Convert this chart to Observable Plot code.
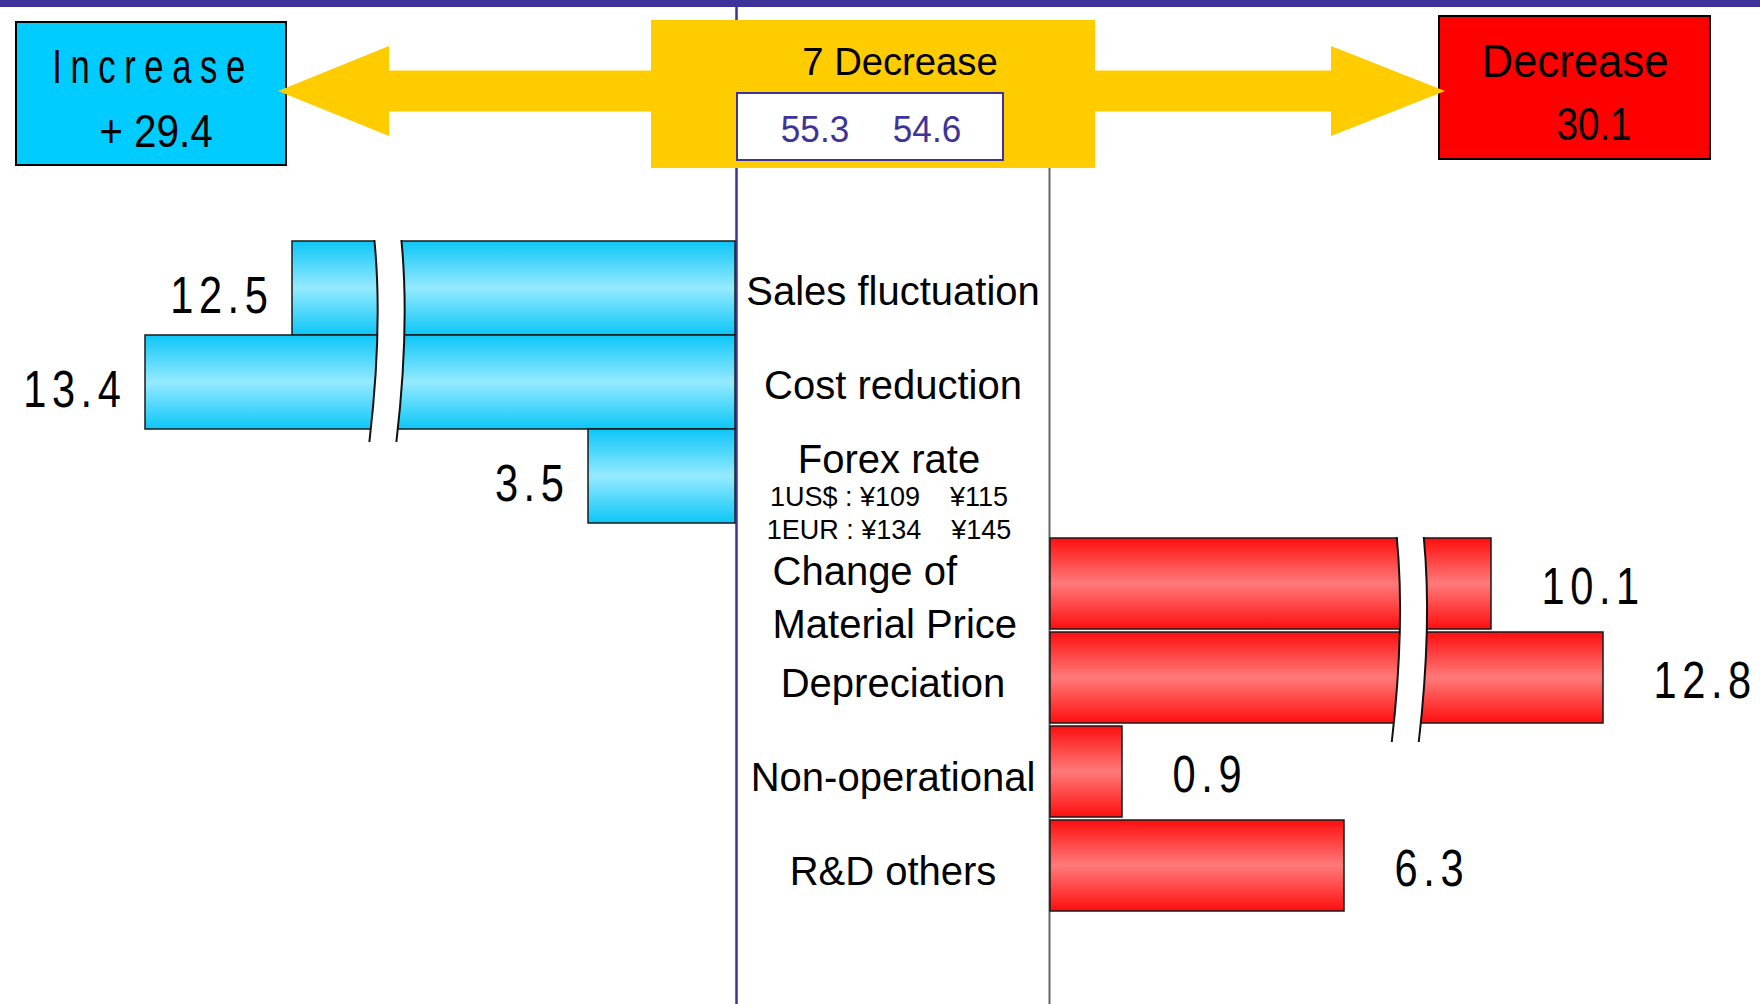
<!DOCTYPE html>
<html><head><meta charset="utf-8">
<script src="https://cdn.jsdelivr.net/npm/d3@7"></script>
<script src="https://cdn.jsdelivr.net/npm/@observablehq/plot@0.6"></script>
<style>
html,body{margin:0;padding:0;background:#fff;}
#chart{width:1760px;height:1004px;overflow:hidden;}
#chart g[aria-description="value-labels"] text{letter-spacing:7px;}
</style></head><body><div id="chart"></div>
<script>
// ---------------- data ----------------
const increaseItems = ["Sales fluctuation", "Cost reduction", "Forex rate"];
const increaseValues = [12.5, 13.4, 3.5];
const decreaseItems = ["Change of\nMaterial Price", "Depreciation", "Non-operational", "R&D others"];
const decreaseValues = [10.1, 12.8, 0.9, 6.3];
const forexRateLines = ["1US$ : ¥109\u00a0\u00a0\u00a0\u00a0¥115", "1EUR : ¥134\u00a0\u00a0\u00a0\u00a0¥145"];
const increaseTitle = "Increase";
const increaseTotal = 29.4;
const decreaseTitle = "Decrease";
const decreaseTotal = 30.1;
const netChangeLabel = "7 Decrease";
const profitBefore = 55.3;
const profitAfter = 54.6;

// ---------------- layout / style ----------------
const W = 1760, H = 1004;
const ZERO_X = 735;          // zero line of the chart
const COLUMN = 315;          // width of the central label column
const ROWS = [240, 900];     // vertical extent of the bar rows
const DEC_SHIFT = 15;        // decrease bars sit slightly lower
// drawn lengths of the original (non-proportional, broken) axis, for values sorted ascending
const incLengths = [147, 443, 590];
const decLengths = [72, 294, 441, 553];
const BREAK_MIN = 10;        // bars at or above this value are drawn with a break
const NAVY = "#3d3399";
const FONT = "'Liberation Sans', Arial, Helvetica, sans-serif";
const VALUE_SQUEEZE = 0.8;   // condensed look of the value figures

const fmt = d3.format(".1f");
const incData = increaseItems.map((item, i) => ({item, value: increaseValues[i]}));
const decData = decreaseItems.map((item, i) => ({item, value: decreaseValues[i]}));
const allItems = [...increaseItems, ...decreaseItems];

const incSorted = [...increaseValues].sort(d3.ascending);
const decSorted = [...decreaseValues].sort(d3.ascending);
const xDomain = [...incSorted.map(v => -v).reverse(), 0, ...decSorted];
const xRange = [...incLengths.map(p => ZERO_X - p).reverse(), ZERO_X, ...decLengths.map(p => ZERO_X + p)];

// gradients
const defsMark = () => {
  const g = d3.create("svg:g");
  const defs = g.append("defs");
  const grad = (id, edge, mid) => {
    const lg = defs.append("linearGradient").attr("id", id)
      .attr("x1", 0).attr("y1", 0).attr("x2", 0).attr("y2", 1);
    lg.append("stop").attr("offset", "0").attr("stop-color", edge);
    lg.append("stop").attr("offset", "0.5").attr("stop-color", mid);
    lg.append("stop").attr("offset", "1").attr("stop-color", edge);
  };
  grad("incGrad", "#0cc6f7", "#95eaff");
  grad("decGrad", "#ff0e0e", "#ff7a7a");
  return g.node();
};

// wavy "axis break" drawn across the long bars
const breakMark = (items, value, dx, dy, extend) => (index, scales) => {
  const x = scales.x, y = scales.y;
  const bw = y.bandwidth ? y.bandwidth() : 94;
  const cx = x(value) + dx;
  const top = y(items[0]) + dy - 1;
  const bottom = y(items[items.length - 1]) + bw + dy + extend;
  const h = bottom - top, gw = 27;
  const seg = o => `C${cx - 7 + o},${top + 0.3 * h} ${cx - 9 + o},${top + 0.62 * h} ${cx - 18 + o},${bottom}`;
  const segRev = o => `C${cx - 9 + o},${top + 0.62 * h} ${cx - 7 + o},${top + 0.3 * h} ${cx - 13 + o},${top}`;
  const g = d3.create("svg:g");
  g.append("path").attr("fill", "#fff")
    .attr("d", `M${cx - 13},${top} ${seg(0)} L${cx - 18 + gw},${bottom} ${segRev(gw)} Z`);
  for (const o of [0, gw]) {
    g.append("path").attr("fill", "none").attr("stroke", "#111").attr("stroke-width", 2)
      .attr("d", `M${cx - 13 + o},${top} ${seg(o)}`);
  }
  return g.node();
};

// header: totals boxes and the double arrow
const headerMark = () => {
  const g = d3.create("svg:g").attr("font-family", FONT);
  g.append("rect").attr("x", 0).attr("y", 0).attr("width", W).attr("height", 7).attr("fill", NAVY);
  g.append("rect").attr("x", 16).attr("y", 22).attr("width", 270).attr("height", 143)
    .attr("fill", "#00ccff").attr("stroke", "#000").attr("stroke-width", 2);
  g.append("rect").attr("x", 1439).attr("y", 16).attr("width", 271).attr("height", 143)
    .attr("fill", "#ff0000").attr("stroke", "#000").attr("stroke-width", 2);
  const ym = 91, hh = 45, sh = 20.5;
  const pts = [[278, ym], [389, ym - hh], [389, ym - sh], [1331, ym - sh], [1331, ym - hh], [1445, ym],
               [1331, ym + hh], [1331, ym + sh], [389, ym + sh], [389, ym + hh]];
  g.append("polygon").attr("points", pts.map(p => p.join(",")).join(" ")).attr("fill", "#ffcc00");
  g.append("rect").attr("x", 651).attr("y", 20).attr("width", 444).attr("height", 148).attr("fill", "#ffcc00");
  g.append("rect").attr("x", 737).attr("y", 93).attr("width", 266).attr("height", 67)
    .attr("fill", "#fff").attr("stroke", NAVY).attr("stroke-width", 2);
  const t = (txt, x, y, size, opts = {}) => g.append("text").text(txt)
    .attr("transform", `translate(${x},${y}) scale(${opts.sx || 1},1)`)
    .attr("font-size", size).attr("text-anchor", "middle")
    .attr("fill", opts.fill || "#000").attr("letter-spacing", opts.ls || 0);
  t(increaseTitle, 153, 83, 48, {ls: 12, sx: 0.72});
  t("+ " + fmt(increaseTotal), 156, 147, 46, {sx: 0.88});
  t(netChangeLabel, 900, 75, 39, {sx: 0.98});
  t(fmt(profitBefore), 815, 142, 37, {fill: NAVY, sx: 0.95});
  t(fmt(profitAfter), 927, 142, 37, {fill: NAVY, sx: 0.95});
  t(decreaseTitle, 1575, 77, 47, {sx: 0.93});
  t(fmt(decreaseTotal), 1594, 140, 46, {sx: 0.84});
  return g.node();
};

const plot = Plot.plot({
  width: W, height: H,
  marginTop: 0, marginRight: 0, marginBottom: 0, marginLeft: 0,
  style: {fontFamily: FONT, background: "#fff", color: "#000", overflow: "visible"},
  x: {type: "linear", domain: xDomain, range: xRange, axis: null},
  y: {type: "band", domain: allItems, range: ROWS, padding: 0, axis: null},
  marks: [
    defsMark,
    Plot.ruleX([0], {stroke: NAVY, strokeWidth: 2.5, dx: 1}),
    Plot.ruleX([0], {stroke: "#666", strokeWidth: 2, dx: COLUMN - 1, insetTop: 168}),
    Plot.barX(incData, {x1: 0, x2: d => -d.value, y: "item", fill: "url(#incGrad)", stroke: "#1a1a1a", strokeWidth: 1.5}),
    Plot.barX(decData, {x1: 0, x2: "value", y: "item", dx: COLUMN, dy: DEC_SHIFT, insetBottom: 3,
      fill: "url(#decGrad)", stroke: "#1a1a1a", strokeWidth: 1.5}),
    breakMark(incData.filter(d => d.value >= BREAK_MIN).map(d => d.item), -9.6, 0, 0, 13),
    breakMark(decData.filter(d => d.value >= BREAK_MIN).map(d => d.item), 8.0, COLUMN, DEC_SHIFT, 16),
    // item labels in the central column
    Plot.text(incData.filter(d => d.item !== "Forex rate"), {x: 0, y: "item", text: "item", dx: COLUMN / 2, dy: 4, fontSize: 40}),
    Plot.text(incData.filter(d => d.item === "Forex rate"), {x: 0, y: "item", text: "item", dx: COLUMN / 2 - 4, dy: -16, fontSize: 40}),
    Plot.text(incData.filter(d => d.item === "Forex rate"), {x: 0, y: "item", text: () => forexRateLines.join("\n"),
      dx: COLUMN / 2 - 4, dy: 35, fontSize: 27, lineHeight: 1.22}),
    Plot.text(decData.slice(0, 1), {x: 0, y: "item", text: "item", dx: 37, dy: 24, fontSize: 40, textAnchor: "start", lineHeight: 1.325}),
    Plot.text(decData.slice(1), {x: 0, y: "item", text: "item", dx: COLUMN / 2, dy: 20, fontSize: 40}),
    // value labels
    Plot.text(incData, {x: d => -d.value, y: "item", text: d => fmt(d.value), textAnchor: "end", dx: -19, dy: 8,
      fontSize: 52, ariaDescription: "value-labels"}),
    Plot.text(decData, {x: "value", y: "item", text: d => fmt(d.value), textAnchor: "start", dx: COLUMN + 50, dy: 17,
      fontSize: 52, ariaDescription: "value-labels"}),
    headerMark
  ]
});
// condensed digits for the value figures
d3.select(plot).selectAll('g[aria-description="value-labels"] text').each(function () {
  const el = d3.select(this);
  const tr = el.attr("transform");
  if (tr) el.attr("transform", `${tr} scale(${VALUE_SQUEEZE},1)`);
  else {
    const x = +el.attr("x") || 0, y = +el.attr("y") || 0;
    el.attr("x", null).attr("y", null).attr("transform", `translate(${x},${y}) scale(${VALUE_SQUEEZE},1)`);
  }
});
document.getElementById("chart").appendChild(plot);
</script></body></html>
